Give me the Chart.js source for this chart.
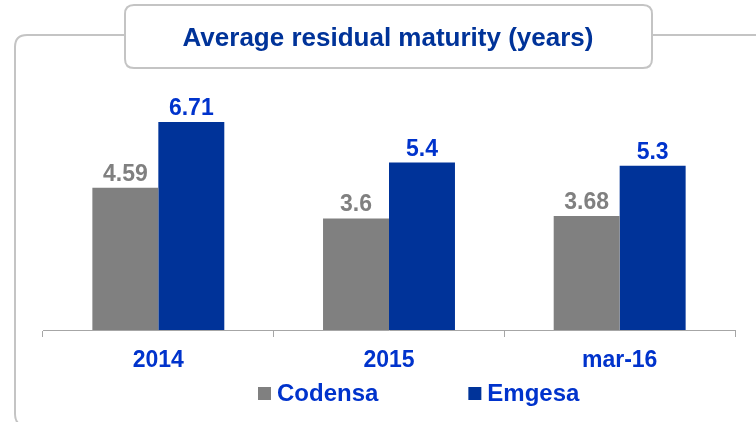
<!DOCTYPE html>
<html>
<head>
<meta charset="utf-8">
<script src="https://cdn.jsdelivr.net/npm/chart.js@4/dist/chart.umd.min.js"></script>
<style>
html,body{margin:0;padding:0;background:#fff;}
#wrap{width:756px;height:422px;}
</style>
</head>
<body>
<div id="wrap"><canvas id="c" width="756" height="422"></canvas></div>
<script>
const categories=["2014","2015","mar-16"];
const codensa=[4.59,3.6,3.68];
const emgesa=[6.71,5.4,5.3];
const seriesNames=["Codensa","Emgesa"];
const titleText="Average residual maturity (years)";

const FONT="'Liberation Sans', Arial, sans-serif";
const GRAY="#808080",BLUE="#003399",LBLUE="#0033cc",LINE="#c4c4c4";

function rr(ctx,x,y,w,h,r){
 ctx.beginPath();
 ctx.moveTo(x+r,y);ctx.lineTo(x+w-r,y);ctx.quadraticCurveTo(x+w,y,x+w,y+r);
 ctx.lineTo(x+w,y+h-r);ctx.quadraticCurveTo(x+w,y+h,x+w-r,y+h);
 ctx.lineTo(x+r,y+h);ctx.quadraticCurveTo(x,y+h,x,y+h-r);
 ctx.lineTo(x,y+r);ctx.quadraticCurveTo(x,y,x+r,y);ctx.closePath();
}

// frame + title tab behind the chart
const framePlugin={
 id:"frame",
 beforeDraw(chart){
  const ctx=chart.ctx;
  ctx.save();
  ctx.fillStyle="#fff";ctx.fillRect(0,0,chart.width,chart.height);
  ctx.strokeStyle=LINE;ctx.lineWidth=2;
  rr(ctx,15,35,800,391,12);ctx.stroke();
  rr(ctx,125,5,527,63,9);ctx.fillStyle="#fff";ctx.fill();ctx.stroke();
  ctx.fillStyle=BLUE;ctx.font="bold 26px "+FONT;
  ctx.textAlign="center";ctx.textBaseline="alphabetic";
  ctx.fillText(titleText,388,46);
  ctx.restore();
 },
 afterDatasetsDraw(chart){
  const ctx=chart.ctx;
  ctx.save();
  ctx.font="bold 23px "+FONT;ctx.textAlign="center";ctx.textBaseline="alphabetic";
  chart.data.datasets.forEach((ds,i)=>{
   ctx.fillStyle=i===0?GRAY:LBLUE;
   chart.getDatasetMeta(i).data.forEach((bar,j)=>{
    ctx.fillText(String(ds.data[j]),bar.x,bar.y-7);
   });
  });
  // legend
  ctx.textAlign="left";ctx.font="bold 24px "+FONT;
  let x=258;
  chart.data.datasets.forEach((ds,i)=>{
   ctx.fillStyle=ds.backgroundColor;ctx.fillRect(x,387,13,13);
   ctx.fillStyle=LBLUE;ctx.fillText(ds.label,x+19,401);
   x+=19+ctx.measureText(ds.label).width+90;
  });
  ctx.restore();
 }
};

new Chart(document.getElementById("c"),{
 type:"bar",
 data:{
  labels:categories,
  datasets:[
   {label:seriesNames[0],data:codensa,backgroundColor:GRAY},
   {label:seriesNames[1],data:emgesa,backgroundColor:BLUE}
  ]
 },
 options:{
  responsive:false,animation:false,
  layout:{padding:{left:43,right:21,top:82,bottom:0}},
  datasets:{bar:{barPercentage:1,categoryPercentage:0.572}},
  plugins:{legend:{display:false},title:{display:false},tooltip:{enabled:false}},
  scales:{
   y:{display:false,min:0,max:8},
   x:{
    grid:{display:true,drawOnChartArea:false,drawTicks:true,tickLength:7,color:"#a6a6a6",offset:true},
    border:{display:true,color:"#a6a6a6",width:1},
    ticks:{color:LBLUE,font:{family:FONT,size:23,weight:"bold"},padding:10},
    afterFit:s=>{s.height=92;}
   }
  }
 },
 plugins:[framePlugin]
});
</script>
</body>
</html>
